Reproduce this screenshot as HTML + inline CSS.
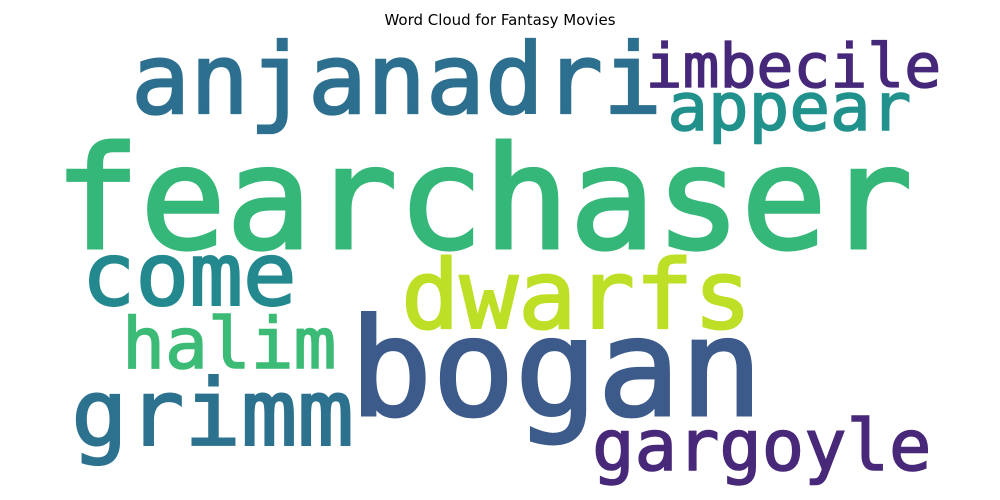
<!DOCTYPE html>
<html><head><meta charset="utf-8"><style>
body{margin:0;background:#fff;width:1000px;height:500px;overflow:hidden}
svg{display:block}
</style></head><body>
<svg id="cloud" width="1000" height="500" viewBox="0 0 1000 500">
<text x="500" y="25" text-anchor="middle" font-family="DejaVu Sans, Liberation Sans, sans-serif" font-size="15" fill="#000">Word Cloud for Fantasy Movies</text>
</svg>
<script>
const words=["fearchaser","bogan","anjanadri","dwarfs","come","grimm","gargoyle","imbecile","appear","halim"];
const weights=[142,135,97,95,87,92,70,61,66,70];
const colors=["#35b779","#3c5b8b","#2d6f8e","#bddf26","#23898e","#2c728e","#482878","#46287a","#21918c","#3bbb75"];
const layoutX=[60,355,135,405,85,75,595,648,670,125];
const layoutY=[248,415,113,328,305,445,470,87,130,368];
const layoutW=[850,405,525,345,210,277,335,292,240,210];
const svg=document.getElementById('cloud');
words.forEach((w,i)=>{
  const t=document.createElementNS('http://www.w3.org/2000/svg','text');
  
  
  t.setAttribute('x',layoutX[i]-weights[i]*0.04);
  t.setAttribute('y',layoutY[i]);
  t.setAttribute('font-size',weights[i]);
  t.setAttribute('font-family','DejaVu Sans Mono, Liberation Mono, monospace');
  t.setAttribute('fill',colors[i]);
  t.setAttribute('stroke',colors[i]);
  t.setAttribute('stroke-width',weights[i]*0.022);
  t.setAttribute('textLength',layoutW[i]+weights[i]*0.06);
  t.setAttribute('lengthAdjust','spacingAndGlyphs');
  t.textContent=w;
  svg.appendChild(t);
});
</script>
</body></html>
